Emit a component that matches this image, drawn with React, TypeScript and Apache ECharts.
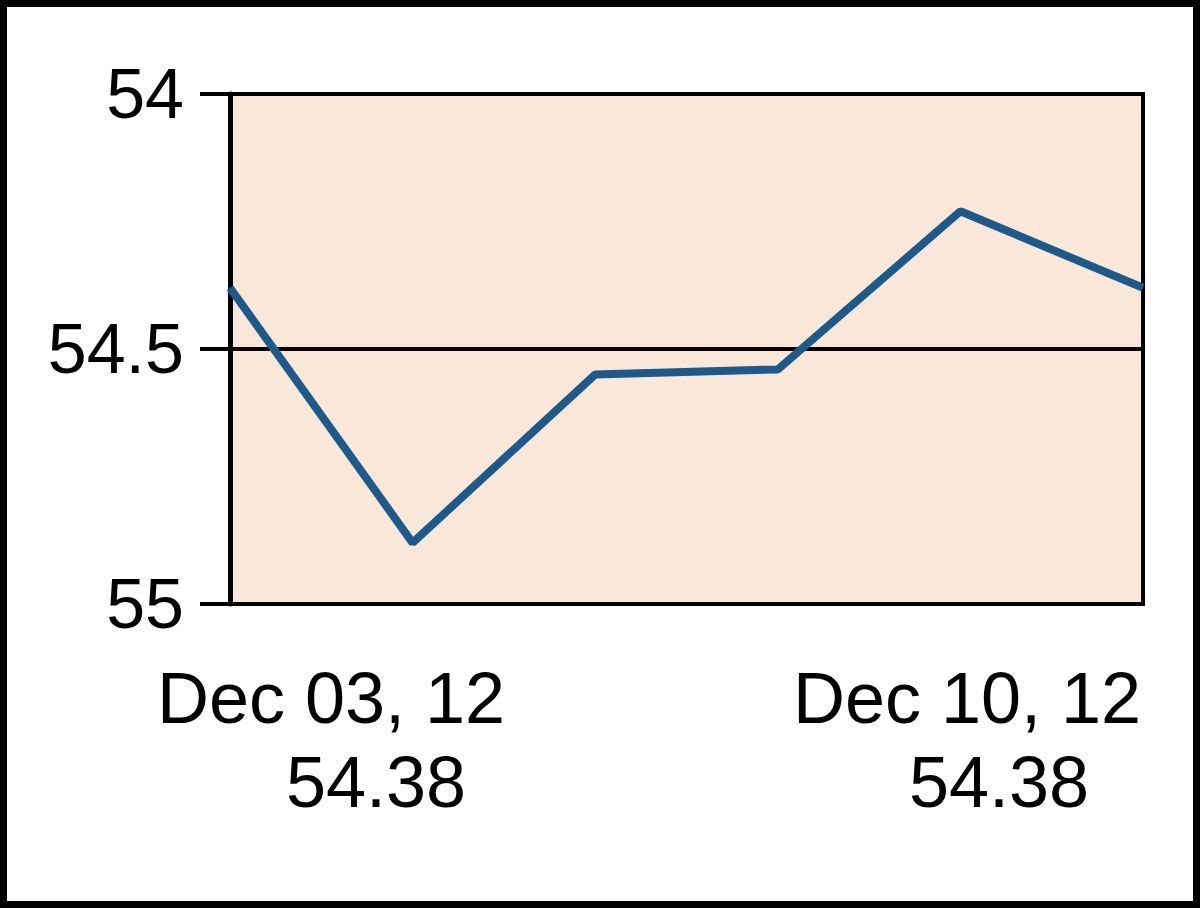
import React, { useEffect, useRef } from "react";
import * as echarts from "echarts";

const dates = ["Dec 03", "Dec 04", "Dec 05", "Dec 06", "Dec 07", "Dec 10"];
const yearSuffix = "12";
const values = [54.38, 54.88, 54.55, 54.54, 54.23, 54.38];
const yTicks = [54, 54.5, 55];

const FONT = "'Liberation Sans', Arial, sans-serif";

export default function App() {
  const ref = useRef<HTMLDivElement>(null);
  useEffect(() => {
    if (!ref.current) return;
    const chart = echarts.init(ref.current, null, { renderer: "svg" });
    const first = 0;
    const last = values.length - 1;
    const textStyle = (text: string) => ({
      text,
      fill: "#000",
      font: `72px ${FONT}`,
      align: "center",
      verticalAlign: "middle",
    });
    chart.setOption({
      animation: false,
      backgroundColor: "#ffffff",
      grid: {
        left: 230,
        right: 57,
        top: 94,
        bottom: 304,
        show: true,
        backgroundColor: "#F9E8D8",
        borderColor: "#000",
        borderWidth: 4,
      },
      xAxis: {
        type: "category",
        data: dates,
        boundaryGap: false,
        axisLine: { show: false },
        axisTick: { show: false },
        axisLabel: { show: false },
        splitLine: { show: false },
      },
      yAxis: {
        type: "value",
        inverse: true,
        min: yTicks[0],
        max: yTicks[yTicks.length - 1],
        interval: yTicks[1] - yTicks[0],
        axisLine: { show: true, lineStyle: { color: "#000", width: 5 } },
        axisTick: { show: true, inside: false, length: 30, lineStyle: { color: "#000", width: 4 } },
        axisLabel: {
          margin: 46,
          color: "#000",
          fontSize: 70,
          fontFamily: FONT,
          formatter: (v: number) => String(v),
        },
        splitLine: { show: true, lineStyle: { color: "#000", width: 4 } },
      },
      series: [
        {
          type: "line",
          data: values,
          showSymbol: false,
          symbol: "none",
          lineStyle: { color: "#1B5A8A", width: 8 },
          z: 5,
        },
      ],
      graphic: [
        {
          type: "rect",
          shape: { x: 3.5, y: 3.5, width: 1193, height: 901 },
          style: { fill: "none", stroke: "#000", lineWidth: 7 },
          z: 100,
        },
        { type: "text", x: 331, y: 698, style: textStyle(`${dates[first]}, ${yearSuffix}`) },
        { type: "text", x: 376, y: 782, style: textStyle(values[first].toFixed(2)) },
        { type: "text", x: 967, y: 698, style: textStyle(`${dates[last]}, ${yearSuffix}`) },
        { type: "text", x: 999, y: 782, style: textStyle(values[last].toFixed(2)) },
      ],
    });
    return () => chart.dispose();
  }, []);
  return (
    <div
      ref={ref}
      style={{ position: "fixed", left: 0, top: 0, width: 1200, height: 908 }}
    />
  );
}
